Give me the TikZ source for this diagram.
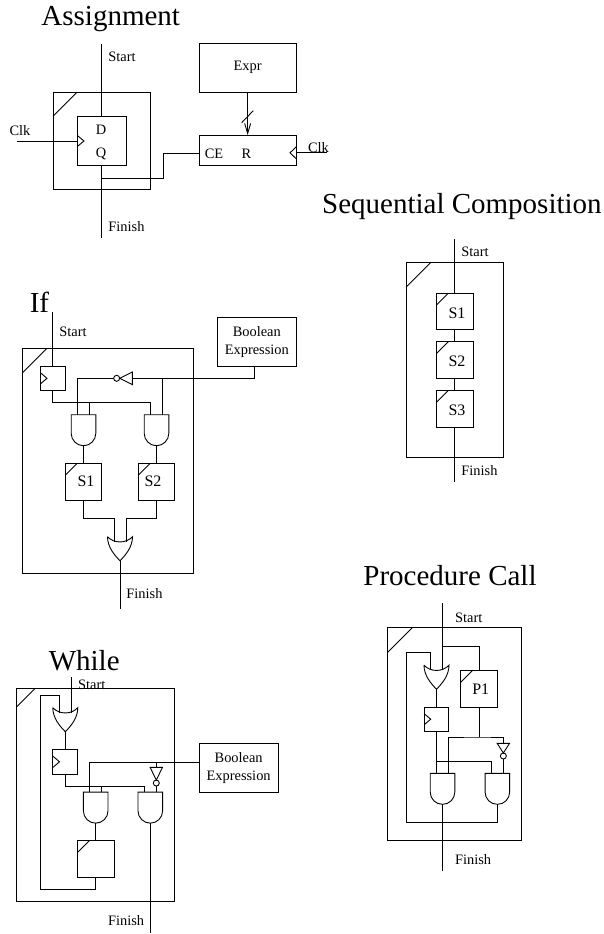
\documentclass[tikz,border=0pt]{standalone}
\usepackage{fontspec}
\setmainfont{Liberation Serif}
\usetikzlibrary{arrows.meta}

\tikzset{
  txt/.style={inner sep=0pt, font=\fontsize{14.4}{18.4}\selectfont},
  title/.style={inner sep=0pt, anchor=base west, font=\fontsize{29}{32}\selectfont},
  stmtlabel/.style={inner sep=0pt, font=\fontsize{16}{18}\selectfont},
  plainbox/.style={draw, inner sep=0pt, outer sep=0pt, align=center, font=\fontsize{14.4}{18.4}\selectfont},
  boolbox/.style={plainbox, minimum width=79pt, minimum height=48.6pt},
  outerbox/.style n args={3}{draw, inner sep=0pt, outer sep=0pt, minimum width=#1, minimum height=#2,
    append after command={\pgfextra{\draw ([yshift=-#3]\tikzlastnode.north west) -- ([xshift=#3]\tikzlastnode.north west);}}},
  subbox/.style={draw, inner sep=0pt, outer sep=0pt, minimum size=36.6pt,
    append after command={\pgfextra{\draw ([yshift=-12pt]\tikzlastnode.north west) -- ([xshift=12pt]\tikzlastnode.north west);}}},
  clocked/.style={draw, inner sep=0pt, outer sep=0pt,
    append after command={\pgfextra{\draw ([yshift=5.6pt]\tikzlastnode.west) -- ([xshift=6.6pt]\tikzlastnode.west) -- ([yshift=-5.6pt]\tikzlastnode.west);}}},
  ffbox/.style={clocked, minimum width=24.8pt, minimum height=24.4pt},
  andgate/.style={inner sep=0pt, outer sep=0pt, minimum width=24.6pt, minimum height=31pt,
    append after command={\pgfextra{\draw (\tikzlastnode.north west) -- (\tikzlastnode.north east) -- ++(0pt,-18.7pt)
      arc[start angle=0, end angle=-180, radius=12.3pt] -- cycle;}}},
  orgate/.style={inner sep=0pt, outer sep=0pt, minimum width=25pt, minimum height=24pt,
    append after command={\pgfextra{\draw (\tikzlastnode.north west)
      .. controls ([shift={(6.5pt,-7pt)}]\tikzlastnode.north west) and ([shift={(-6.5pt,-7pt)}]\tikzlastnode.north east) .. (\tikzlastnode.north east)
      .. controls ([yshift=-10pt]\tikzlastnode.north east) and ([shift={(6pt,6pt)}]\tikzlastnode.south) .. (\tikzlastnode.south)
      .. controls ([shift={(-6pt,6pt)}]\tikzlastnode.south) and ([yshift=-10pt]\tikzlastnode.north west) .. (\tikzlastnode.north west);}}},
  notdown/.style={inner sep=0pt, outer sep=0pt, minimum width=12.4pt, minimum height=18.7pt,
    append after command={\pgfextra{\draw (\tikzlastnode.north west) -- (\tikzlastnode.north east) -- ([yshift=6pt]\tikzlastnode.south) -- cycle;
      \draw ([yshift=3pt]\tikzlastnode.south) circle[radius=3pt];}}},
  notleft/.style={inner sep=0pt, outer sep=0pt, minimum width=18.7pt, minimum height=12.6pt,
    append after command={\pgfextra{\draw (\tikzlastnode.north east) -- (\tikzlastnode.south east) -- ([xshift=6pt]\tikzlastnode.west) -- cycle;
      \draw ([xshift=3pt]\tikzlastnode.west) circle[radius=3pt];}}},
}

\begin{document}
\begin{tikzpicture}[x=1pt, y=-1pt, line width=.9pt, >={Straight Barb[length=10pt,width=6pt]}]
\useasboundingbox (0,0) rectangle (603,934);

% --- Assignment ---
\node (asgTitle) [title] at (41,26) {Assignment};
\node (asgOuter) [outerbox={97.3pt}{97.4pt}{24pt}] at (101.65,141) {};
\node (asgDff) [clocked, minimum width=48.7pt, minimum height=48.6pt] at (101.65,141) {};
\node (asgD) at (101,130) [txt] {D};
\node (asgQ) at (101,154) [txt] {Q};
\node (asgExpr) [plainbox, minimum width=97.3pt, minimum height=49pt] at (247.65,67.8) {Expr};
\node (asgReg) [plainbox, minimum width=97.3pt, minimum height=30.3pt] at (247.65,150.15) {};
\node (asgCE) at (214,154) [txt] {CE};
\node (asgR) at (246.5,154) [txt] {R};
\node (asgStartL) [txt, anchor=west] at (108,57) {Start};
\node (asgFinishL) [txt, anchor=west] at (108,227) {Finish};
\node (asgClkL) [txt] at (20,131) {Clk};
\node (asgClkR) [txt] at (318.5,148) {Clk};
\coordinate (asgStart) at (101.65,44);
\coordinate (asgFinish) at (101.65,238);
\coordinate (asgClkIn) at (16.7,141);
\coordinate (asgClkOut) at (326.7,152.8);
\coordinate (asgClkPin) at (296.3,152.8);
\coordinate (asgTap) at (101.65,178);
\coordinate (asgBend) at (163,153.5);
\coordinate (asgCEin) at (199,153.5);
\draw (asgStart) -- (asgDff.north);
\draw (asgDff.south) -- (asgFinish);
\draw (asgClkIn) -- (asgDff.west);
\draw (asgClkOut) -- (asgClkPin);
\draw ([yshift=6pt]asgClkPin) -- ([xshift=-6.3pt]asgClkPin) -- ([yshift=-6pt]asgClkPin);
\draw (asgTap) -| (asgBend) -- (asgCEin);
\draw[->] (asgExpr.south) -- (asgReg.north);
\draw (241.7,122.7) -- (253.3,110.7);

% --- Sequential Composition ---
\node (seqTitle) [title] at (321.7,213) {Sequential Composition};
\node (seqOuter) [outerbox={97.3pt}{194.6pt}{24.6pt}] at (454.65,360) {};
\node (seqSone) [subbox] at (454.65,311.5) {};
\node (seqStwo) [subbox] at (454.65,360) {};
\node (seqSthree) [subbox] at (454.65,408.7) {};
\node (seqSoneL) [stmtlabel] at (457,313.3) {S1};
\node (seqStwoL) [stmtlabel] at (457,361.5) {S2};
\node (seqSthreeL) [stmtlabel] at (457,410) {S3};
\node (seqStartL) [txt, anchor=west] at (461,252) {Start};
\node (seqFinishL) [txt, anchor=west] at (461,471) {Finish};
\coordinate (seqStart) at (454.65,239);
\coordinate (seqFinish) at (454.65,481.7);
\draw (seqStart) -- (seqSone.north);
\draw (seqSone.south) -- (seqStwo.north);
\draw (seqStwo.south) -- (seqSthree.north);
\draw (seqSthree.south) -- (seqFinish);

% --- If ---
\node (ifTitle) [title] at (29.3,312) {If};
\node (ifOuter) [outerbox={170.3pt}{225pt}{24.3pt}] at (107.85,460.8) {};
\node (ifDff) [ffbox] at (52.8,378.3) {};
\node (ifAndL) [andgate] at (83.5,430.2) {};
\node (ifAndR) [andgate] at (156.5,430.2) {};
\node (ifSone) [subbox] at (83.5,481.65) {};
\node (ifStwo) [subbox] at (156.5,481.65) {};
\node (ifSoneL) [stmtlabel] at (86,481.7) {S1};
\node (ifStwoL) [stmtlabel] at (153,481.7) {S2};
\node (ifOr) [orgate] at (120,548.7) {};
\node (ifNot) [notleft] at (123,378.3) {};
\node (ifBool) [boolbox] at (256.8,342) {Boolean\\Expression};
\node (ifStartL) [txt, anchor=west] at (59,331.7) {Start};
\node (ifFinishL) [txt, anchor=west] at (126,593.3) {Finish};
\coordinate (ifStart) at (52.8,311.7);
\coordinate (ifFinish) at (120,609.3);
\coordinate (ifRail) at (150.5,402.7);
\draw (ifStart) -- (ifDff.north);
\draw (ifDff.south) |- (ifRail) -- ([xshift=-6pt]ifAndR.north);
\draw ([xshift=6pt]ifAndL.north) |- (ifRail);
\draw ([xshift=-2.8pt]ifBool.south) |- (ifNot.east);
\draw (ifNot.west) -| ([xshift=-6pt]ifAndL.north);
\draw ([xshift=6pt]ifAndR.north) |- (ifNot.east);
\draw (ifAndL.south) -- (ifSone.north);
\draw (ifAndR.south) -- (ifStwo.north);
\draw (ifSone.south) |- ([shift={(-6pt,18.2pt)}]ifOr.north) -- ([shift={(-6pt,-5pt)}]ifOr.north);
\draw (ifStwo.south) |- ([shift={(6pt,18.2pt)}]ifOr.north) -- ([shift={(6pt,-5pt)}]ifOr.north);
\draw (ifOr.south) -- (ifFinish);

% --- While ---
\node (whTitle) [title] at (48.3,670.7) {While};
\node (whOuter) [outerbox={158pt}{213pt}{18pt}] at (95.7,795.2) {};
\node (whOr) [orgate] at (65.3,719.7) {};
\node (whDff) [ffbox] at (65.3,761.8) {};
\node (whAndL) [andgate] at (95.7,807.65) {};
\node (whAndR) [andgate] at (150.3,807.65) {};
\node (whBox) [subbox] at (95.7,859) {};
\node (whNot) [notdown] at (156.3,776.7) {};
\node (whBool) [boolbox] at (238.65,768) {Boolean\\Expression};
\node (whStartL) [txt, anchor=west] at (77.7,684.3) {Start};
\node (whFinishL) [txt, anchor=west] at (107.7,921) {Finish};
\coordinate (whStart) at (71.3,677.3);
\coordinate (whFinish) at (150.3,933.3);
\coordinate (whLoopB) at (40.7,889.3);
\coordinate (whLoopT) at (40.7,695);
\coordinate (whRail) at (144.3,786);
\coordinate (whBoolIn) at (199,762);
\draw (whStart) -- ([shift={(6pt,-5pt)}]whOr.north);
\draw (whBox.south) |- (whLoopB) -- (whLoopT) -| ([shift={(-6pt,-5pt)}]whOr.north);
\draw (whOr.south) -- (whDff.north);
\draw (whDff.south) |- (whRail) -- ([xshift=-6pt]whAndR.north);
\draw ([xshift=6pt]whAndL.north) |- (whRail);
\draw (whBoolIn) -| ([xshift=-6pt]whAndL.north);
\draw (whNot.north) |- (whBoolIn);
\draw (whNot.south) -- ([xshift=6pt]whAndR.north);
\draw (whAndL.south) -- (whBox.north);
\draw (whAndR.south) -- (whFinish);

% --- Procedure Call ---
\node (prTitle) [title] at (363,585.5) {Procedure Call};
\node (prOuter) [outerbox={134pt}{213pt}{24.6pt}] at (454.7,734.2) {};
\node (prOr) [orgate] at (436.5,677.2) {};
\node (prDff) [ffbox] at (436.5,719.2) {};
\node (prPone) [subbox] at (479,688.65) {};
\node (prPoneL) [stmtlabel] at (480.7,689.3) {P1};
\node (prAndL) [andgate] at (442.5,788.85) {};
\node (prAndR) [andgate] at (497.35,788.85) {};
\node (prNot) [notdown, minimum height=15.7pt] at (503.35,751.15) {};
\node (prStartL) [txt, anchor=west] at (454.7,617.3) {Start};
\node (prFinishL) [txt, anchor=west] at (454.7,860) {Finish};
\coordinate (prStart) at (442.5,603.3);
\coordinate (prFinish) at (442.5,871);
\coordinate (prTap) at (442.5,646);
\coordinate (prLoopB) at (406,822.3);
\coordinate (prLoopT) at (406,652.3);
\coordinate (prRail) at (436.5,761.7);
\coordinate (prBus) at (479,737);
\draw (prStart) -- ([shift={(6pt,-5pt)}]prOr.north);
\draw (prTap) -| (prPone.north);
\draw (prAndR.south) |- (prLoopB) -- (prLoopT) -| ([shift={(-6pt,-5pt)}]prOr.north);
\draw (prOr.south) -- (prDff.north);
\draw (prDff.south) -- ([xshift=-6pt]prAndL.north);
\draw (prRail) -| ([xshift=-6pt]prAndR.north);
\draw (prPone.south) -- (prBus);
\draw ([xshift=6pt]prAndL.north) |- (prBus) -| (prNot.north);
\draw (prNot.south) -- ([xshift=6pt]prAndR.north);
\draw (prAndL.south) -- (prFinish);

\end{tikzpicture}
\end{document}
